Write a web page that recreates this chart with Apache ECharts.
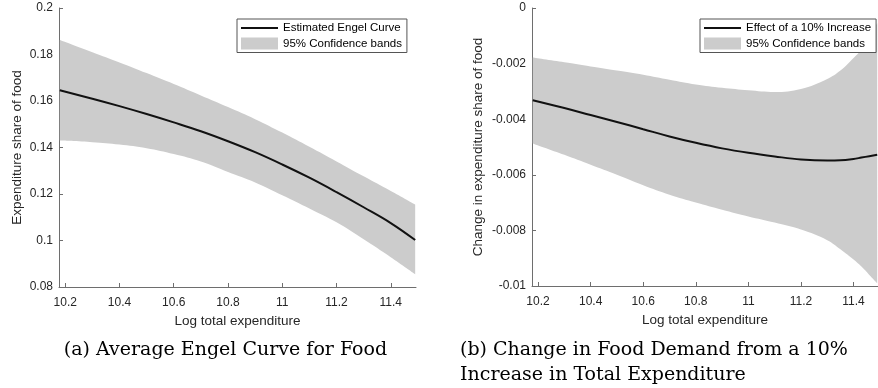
<!DOCTYPE html>
<html>
<head>
<meta charset="utf-8">
<script src="https://cdn.jsdelivr.net/npm/echarts@6/dist/echarts.min.js"></script>
<style>
  html, body { margin: 0; padding: 0; background: #fff; }
  #chart { width: 878px; height: 388px; }
</style>
</head>
<body>
<div id="chart"></div>
<script>
// ---------- Data ----------
// Panel (a): Average Engel curve for food
const xA = [10.18, 10.3, 10.4, 10.5, 10.6, 10.7, 10.8, 10.9, 11.0, 11.1, 11.2, 11.3, 11.4, 11.49];
const curveA = [0.1646, 0.1610, 0.1578, 0.1544, 0.1508, 0.1470, 0.1427, 0.1380, 0.1327, 0.1270, 0.1208, 0.1143, 0.1075, 0.1002];
const upperA = [0.1862, 0.1810, 0.1766, 0.1720, 0.1673, 0.1624, 0.1574, 0.1522, 0.1464, 0.1403, 0.1340, 0.1276, 0.1213, 0.1155];
const lowerA = [0.1430, 0.1423, 0.1413, 0.1397, 0.1372, 0.1340, 0.1295, 0.1250, 0.1195, 0.1138, 0.1078, 0.1005, 0.0928, 0.0855];

// Panel (b): Change in food share from a 10% increase
const xB = [10.18, 10.3, 10.4, 10.5, 10.6, 10.7, 10.8, 10.9, 11.0, 11.1, 11.2, 11.3, 11.35, 11.4, 11.43, 11.46, 11.49];
const curveB = [-0.00332, -0.00360, -0.00385, -0.00410, -0.00436, -0.00462, -0.00485, -0.00505, -0.00521, -0.00534, -0.00545, -0.00549, -0.00548, -0.00543, -0.00538, -0.00533, -0.00528];
const upperB = [-0.00178, -0.00195, -0.00210, -0.00225, -0.00240, -0.00258, -0.00275, -0.00287, -0.00296, -0.00302, -0.00291, -0.00255, -0.00225, -0.00180, -0.00148, -0.00100, -0.00055];
const lowerB = [-0.00487, -0.00528, -0.00564, -0.00600, -0.00638, -0.00672, -0.00700, -0.00726, -0.00750, -0.00772, -0.00797, -0.00835, -0.00868, -0.00905, -0.00930, -0.00960, -0.00990];

// Tick labels
const xTicks = [10.2, 10.4, 10.6, 10.8, 11, 11.2, 11.4];
const yTicksA = [0.08, 0.1, 0.12, 0.14, 0.16, 0.18, 0.2];
const yTicksB = [-0.01, -0.008, -0.006, -0.004, -0.002, 0];

// Text
const nameCurveA = 'Estimated Engel Curve';
const nameCurveB = 'Effect of a 10% Increase';
const nameBand = '95% Confidence bands';
const xName = 'Log total expenditure';
const yNameA = 'Expenditure share of food';
const yNameB = 'Change in expenditure share of food';
const captionA = '(a) Average Engel Curve for Food';
const captionB = '(b) Change in Food Demand from a 10%\nIncrease in Total Expenditure';

// ---------- Build options ----------
const pairs = (xs, ys) => xs.map((x, i) => [x, ys[i]]);
// value first, x second: the stack then applies to the value (y) dimension
const yFirst = (xs, ys) => xs.map((x, i) => [ys[i], x]);
const yFirstDiff = (xs, hi, lo) => xs.map((x, i) => [+(hi[i] - lo[i]).toFixed(6), x]);

const sans = 'Liberation Sans, Arial, Helvetica, sans-serif';
const axisGray = '#6e6e6e';
const textDark = '#262626';
const bandColor = '#cccccc';
const fmt = v => String(+(+v).toFixed(4));

function xAxisCfg(gi, min, max) {
  return {
    gridIndex: gi, type: 'value', min: min, max: max,
    name: xName, nameLocation: 'middle', nameGap: 27,
    nameTextStyle: { fontFamily: sans, fontSize: 13.5, color: textDark },
    axisLine: { show: true, onZero: false, lineStyle: { color: axisGray, width: 1 } },
    axisTick: { show: true, inside: true, length: 4, customValues: xTicks, lineStyle: { color: axisGray } },
    axisLabel: { customValues: xTicks, formatter: fmt, fontFamily: sans, fontSize: 12, color: textDark, margin: 10 },
    splitLine: { show: false }
  };
}
function yAxisCfg(gi, min, max, ticks, name, gap) {
  return {
    gridIndex: gi, type: 'value', min: min, max: max,
    name: name, nameLocation: 'middle', nameGap: gap,
    nameTextStyle: { fontFamily: sans, fontSize: 13.5, color: textDark },
    axisLine: { show: true, onZero: false, lineStyle: { color: axisGray, width: 1 } },
    axisTick: { show: true, inside: true, length: 4, customValues: ticks, lineStyle: { color: axisGray } },
    axisLabel: { customValues: ticks, formatter: fmt, fontFamily: sans, fontSize: 12, color: textDark, margin: 6 },
    splitLine: { show: false }
  };
}
function bandSeries(gi, xs, hi, lo, stackId) {
  return [
    {
      name: 'lower-' + stackId, type: 'line', xAxisIndex: gi, yAxisIndex: gi,
      data: yFirst(xs, lo), encode: { x: 1, y: 0 },
      stack: stackId, stackStrategy: 'all', smooth: 0.4,
      symbol: 'none', lineStyle: { width: 0, opacity: 0 }, silent: true, z: 1
    },
    {
      name: nameBand, type: 'line', xAxisIndex: gi, yAxisIndex: gi,
      data: yFirstDiff(xs, hi, lo), encode: { x: 1, y: 0 },
      stack: stackId, stackStrategy: 'all', smooth: 0.4,
      symbol: 'none', color: bandColor, itemStyle: { color: bandColor },
      lineStyle: { width: 0, opacity: 0 },
      areaStyle: { color: bandColor, opacity: 1 }, silent: true, z: 1
    }
  ];
}
function curveSeries(gi, name, xs, ys) {
  return {
    name: name, type: 'line', xAxisIndex: gi, yAxisIndex: gi,
    data: pairs(xs, ys), smooth: 0.4, symbol: 'none', color: '#111',
    itemStyle: { color: '#111' },
    lineStyle: { color: '#111', width: 2 }, silent: true, z: 3
  };
}
function legendCfg(left, curveName) {
  return {
    left: left, top: 19, orient: 'vertical',
    itemWidth: 37, itemHeight: 12, itemGap: 3.5,
    padding: [3, 5, 3, 4],
    symbolKeepAspect: true,
    borderColor: '#555', borderWidth: 1, borderRadius: 0, backgroundColor: '#fff',
    selectedMode: false,
    textStyle: { fontFamily: sans, fontSize: 11.5, color: '#000' },
    data: [
      { name: curveName, icon: 'path://M0,0h37v2h-37z', itemStyle: { color: '#111', borderWidth: 0 } },
      { name: nameBand, icon: 'rect', itemStyle: { color: bandColor, borderWidth: 0 } }
    ]
  };
}

const serif = 'DejaVu Serif, Liberation Serif, serif';
const option = {
  animation: false,
  backgroundColor: '#fff',
  title: [
    { text: captionA, left: 225.5, top: 337.5, textAlign: 'center', padding: 0,
      textStyle: { fontFamily: serif, fontSize: 19, fontWeight: 'normal', color: '#000', lineHeight: 25 } },
    { text: captionB, left: 460, top: 337.5, textAlign: 'left', padding: 0,
      textStyle: { fontFamily: serif, fontSize: 19, fontWeight: 'normal', color: '#000', lineHeight: 25 } }
  ],
  legend: [legendCfg(237, nameCurveA), legendCfg(700, nameCurveB)],
  grid: [
    { left: 59, top: 8, width: 357, height: 279, containLabel: false },
    { left: 532, top: 8, width: 352.7, height: 278, containLabel: false }
  ],
  xAxis: [xAxisCfg(0, 10.177, 11.493), xAxisCfg(1, 10.177, 11.493)],
  yAxis: [
    yAxisCfg(0, 0.08, 0.2, yTicksA, yNameA, 35),
    yAxisCfg(1, -0.01, 0, yTicksB, yNameB, 47)
  ],
  series: [
    ...bandSeries(0, xA, upperA, lowerA, 'bandA'),
    curveSeries(0, nameCurveA, xA, curveA),
    ...bandSeries(1, xB, upperB, lowerB, 'bandB'),
    curveSeries(1, nameCurveB, xB, curveB)
  ]
};

const chart = echarts.init(document.getElementById('chart'), null, { renderer: 'canvas' });
chart.setOption(option);
</script>
</body>
</html>
